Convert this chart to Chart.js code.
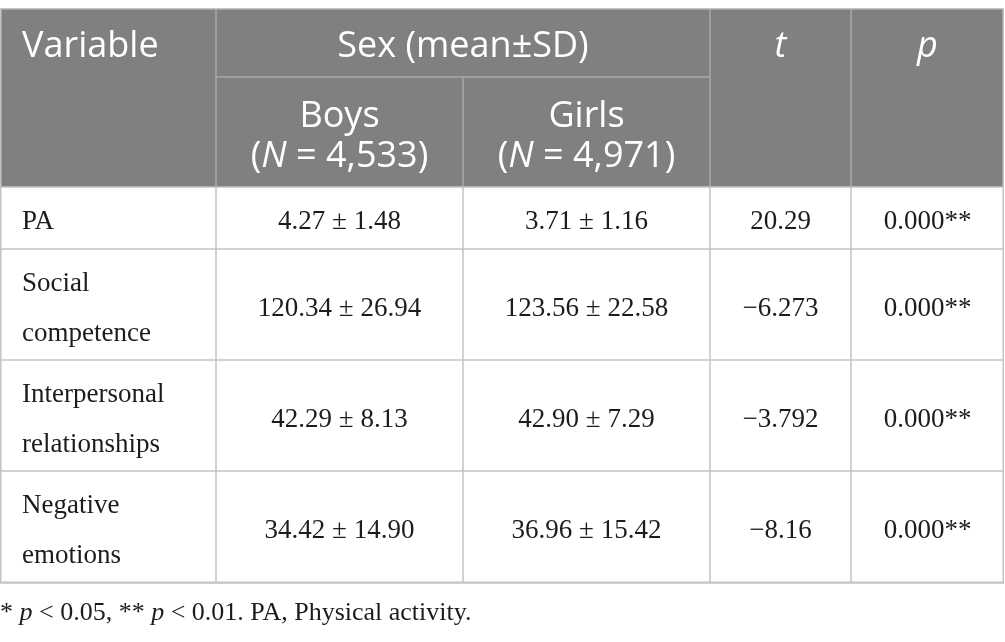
<!DOCTYPE html>
<html>
<head>
<meta charset="utf-8">
<script src="https://cdn.jsdelivr.net/npm/chart.js@4/dist/chart.umd.min.js"></script>
<style>
    html, body { margin: 0; padding: 0; background: #fff; }
    #wrap { width: 1005px; height: 642px; position: relative; }
</style>
</head>
<body>
<div id="wrap"><canvas id="tableChart"></canvas></div>
<script>
// table data
const variables = [['PA'], ['Social', 'competence'], ['Interpersonal', 'relationships'], ['Negative', 'emotions']];
const boysMean = [4.27, 120.34, 42.29, 34.42];
const boysSD = [1.48, 26.94, 8.13, 14.90];
const girlsMean = [3.71, 123.56, 42.90, 36.96];
const girlsSD = [1.16, 22.58, 7.29, 15.42];
const tValues = ['20.29', '\u22126.273', '\u22123.792', '\u22128.16'];
const pValues = ['0.000**', '0.000**', '0.000**', '0.000**'];
const groupNames = ['Boys', 'Girls'];
const groupN = ['4,533', '4,971'];

// layout (in scale units, 1 unit = 1 px)
const colEdges = [0, 216, 463, 710, 851, 1004];
const rowEdges = [8, 77, 187, 249, 360, 471, 583];
const headFont = '"Open Sans", sans-serif';
const bodyFont = '"Liberation Serif", "DejaVu Serif", serif';

function drawRuns(ctx, runs, x, y, align, size, family) {
    let total = 0;
    runs.forEach(r => {
        ctx.font = (r.italic ? 'italic ' : '') + size + 'px ' + family;
        total += ctx.measureText(r.text).width;
    });
    let cx = x;
    if (align === 'center') cx = x - total / 2;
    ctx.textAlign = 'left';
    ctx.textBaseline = 'alphabetic';
    runs.forEach(r => {
        ctx.font = (r.italic ? 'italic ' : '') + size + 'px ' + family;
        ctx.fillText(r.text, cx, y);
        cx += ctx.measureText(r.text).width;
    });
}

const tablePlugin = {
    id: 'tablePlugin',
    afterDraw(chart) {
        const ctx = chart.ctx;
        const xs = chart.scales.x, ys = chart.scales.y;
        const X = v => xs.getPixelForValue(v);
        const Y = v => ys.getPixelForValue(v);
        const left = X(colEdges[0]), right = X(colEdges[5]);
        ctx.save();

        // header background
        ctx.fillStyle = '#808080';
        ctx.fillRect(left, Y(rowEdges[0]), right - left, Y(rowEdges[2]) - Y(rowEdges[0]));

        // header lines
        ctx.lineWidth = 1.5;
        ctx.strokeStyle = '#a8a8a8';
        ctx.beginPath();
        ctx.moveTo(X(colEdges[1]), Y(rowEdges[1]));
        ctx.lineTo(X(colEdges[3]), Y(rowEdges[1]));
        [1, 3, 4].forEach(i => {
            ctx.moveTo(X(colEdges[i]), Y(rowEdges[0]));
            ctx.lineTo(X(colEdges[i]), Y(rowEdges[2]));
        });
        ctx.moveTo(X(colEdges[2]), Y(rowEdges[1]));
        ctx.lineTo(X(colEdges[2]), Y(rowEdges[2]));
        ctx.stroke();

        // body grid
        ctx.strokeStyle = '#c4c4c4';
        ctx.beginPath();
        ctx.rect(left + 0.75, Y(rowEdges[0]) + 0.75, right - left - 1.5, Y(rowEdges[6]) - Y(rowEdges[0]) - 1.5);
        for (let r = 2; r < rowEdges.length; r++) {
            ctx.moveTo(left, Y(rowEdges[r]));
            ctx.lineTo(right, Y(rowEdges[r]));
        }
        for (let c = 1; c < colEdges.length - 1; c++) {
            ctx.moveTo(X(colEdges[c]), Y(rowEdges[2]));
            ctx.lineTo(X(colEdges[c]), Y(rowEdges[6]));
        }
        ctx.stroke();

        // header text
        const hs = 36;
        ctx.fillStyle = '#ffffff';
        const b1 = Y(57);
        drawRuns(ctx, [{text: 'Variable'}], X(22), b1, 'left', hs, headFont);
        drawRuns(ctx, [{text: 'Sex (mean\u00b1SD)'}], (X(colEdges[1]) + X(colEdges[3])) / 2, b1, 'center', hs, headFont);
        drawRuns(ctx, [{text: 't', italic: true}], (X(colEdges[3]) + X(colEdges[4])) / 2, b1, 'center', hs, headFont);
        drawRuns(ctx, [{text: 'p', italic: true}], (X(colEdges[4]) + X(colEdges[5])) / 2, b1, 'center', hs, headFont);
        groupNames.forEach((g, i) => {
            const cx = (X(colEdges[i + 1]) + X(colEdges[i + 2])) / 2;
            drawRuns(ctx, [{text: g}], cx, Y(127), 'center', hs, headFont);
            drawRuns(ctx, [{text: '('}, {text: 'N', italic: true}, {text: ' = ' + groupN[i] + ')'}], cx, Y(167), 'center', hs, headFont);
        });

        // body text
        const bs = 27;
        ctx.fillStyle = '#1e1b1c';
        variables.forEach((lines, i) => {
            const mid = (Y(rowEdges[i + 2]) + Y(rowEdges[i + 3])) / 2 + 11;
            lines.forEach((ln, k) => {
                const off = (k - (lines.length - 1) / 2) * 50;
                drawRuns(ctx, [{text: ln}], X(22), mid + off, 'left', bs, bodyFont);
            });
            const cells = [
                boysMean[i].toFixed(2) + ' \u00b1 ' + boysSD[i].toFixed(2),
                girlsMean[i].toFixed(2) + ' \u00b1 ' + girlsSD[i].toFixed(2),
                tValues[i],
                pValues[i]
            ];
            cells.forEach((txt, c) => {
                const cx = (X(colEdges[c + 1]) + X(colEdges[c + 2])) / 2;
                drawRuns(ctx, [{text: txt}], cx, mid, 'center', bs, bodyFont);
            });
        });

        // footnote
        drawRuns(ctx, [
            {text: '* '}, {text: 'p', italic: true}, {text: ' < 0.05, ** '},
            {text: 'p', italic: true}, {text: ' < 0.01. PA, Physical activity.'}
        ], X(0), Y(620), 'left', 26, bodyFont);

        ctx.restore();
    }
};

new Chart(document.getElementById('tableChart').getContext('2d'), {
    type: 'scatter',
    data: { datasets: [{ data: [] }] },
    options: {
        responsive: true,
        maintainAspectRatio: false,
        animation: false,
        layout: { padding: 0 },
        plugins: { legend: { display: false }, tooltip: { enabled: false } },
        scales: {
            x: { type: 'linear', min: 0, max: 1005, display: false },
            y: { type: 'linear', min: 0, max: 642, reverse: true, display: false }
        }
    },
    plugins: [tablePlugin]
});
</script>
</body>
</html>
